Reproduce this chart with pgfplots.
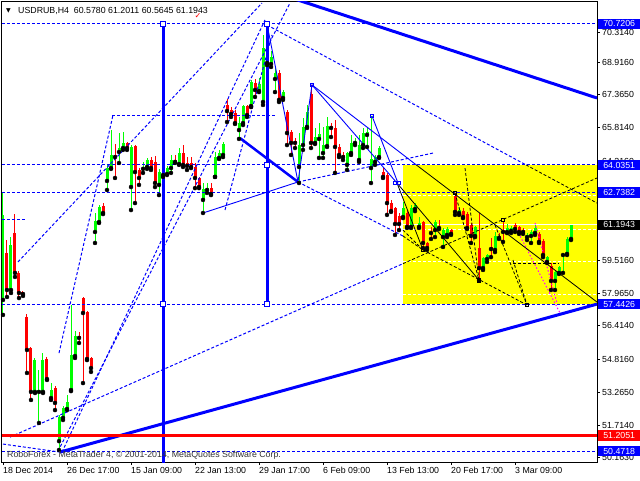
\documentclass[border=0pt]{standalone}
\usepackage{fontspec}
\setmainfont{Liberation Sans}
\newfontfamily\symfont{DejaVu Sans}
\usepackage{pgfplots}
\usepackage{pgfplotstable}
\pgfplotsset{compat=1.18}
\definecolor{mtgreen}{RGB}{0,255,0}
\definecolor{mtred}{RGB}{255,0,0}
\definecolor{mtblue}{RGB}{0,0,255}
\definecolor{mtyellow}{RGB}{255,255,0}
\definecolor{mtmag}{RGB}{255,0,255}

% bullish candles: bar index, open, high, low, close
\pgfplotstableread{
x o h l c
0 57.64 62.71 56.93 61.67
2 58.11 60.62 57.97 60.24
8 53.28 54.89 53.23 54.79
9 53.28 54.32 51.81 53.37
10 53.28 55.12 53.23 54.79
12 52.99 53.70 52.90 53.37
14 50.95 52.19 50.53 52.09
15 52.05 52.61 51.95 52.52
16 52.47 53.13 52.42 52.80
17 53.37 57.40 53.32 55.03
18 54.98 56.17 54.89 55.93
23 60.86 61.76 60.34 61.38
24 61.33 62.14 61.29 62.04
26 63.28 64.04 62.85 63.89
27 63.89 65.69 63.85 64.51
29 64.65 65.55 64.13 64.84
30 64.84 65.60 64.75 65.08
32 62.99 64.98 61.90 64.89
35 63.85 64.18 63.66 63.94
36 63.94 64.37 63.85 64.27
39 63.09 63.85 62.61 63.70
41 63.61 63.99 63.56 63.89
42 63.89 64.51 63.66 64.27
44 64.08 64.84 64.04 64.60
50 62.38 63.18 61.76 62.90
51 62.85 63.18 62.71 62.94
53 63.47 64.65 63.47 64.41
54 64.37 64.75 64.32 64.60
55 64.51 65.12 64.41 65.03
59 65.69 66.31 65.27 66.02
60 66.02 66.88 65.93 66.83
62 66.83 68.06 66.78 67.97
64 67.54 68.16 67.49 67.87
65 67.02 70.20 66.88 69.58
67 68.82 69.44 68.68 69.15
68 68.11 68.68 67.49 68.39
70 67.21 67.59 67.12 67.49
74 63.94 65.55 63.18 64.98
75 64.98 66.26 64.75 65.84
76 65.84 66.88 65.79 66.55
78 65.08 65.79 65.03 65.36
79 65.27 66.02 64.37 65.50
80 64.60 65.84 64.37 64.98
81 64.93 66.31 64.89 65.88
86 64.04 64.65 63.80 64.60
87 64.60 65.46 64.51 65.08
88 65.08 65.31 64.98 65.12
89 64.27 65.46 64.18 64.98
90 64.98 65.79 64.84 65.55
91 65.46 65.84 64.89 65.60
92 63.89 66.36 63.18 64.32
93 64.18 64.51 64.04 64.41
94 64.41 64.93 64.37 64.84
100 61.57 62.28 61.52 61.98
102 61.10 62.14 61.05 61.98
103 61.95 62.23 61.85 62.14
104 61.10 61.57 61.05 61.29
108 60.95 61.43 60.62 61.33
110 60.62 61.05 60.15 60.95
111 60.72 61.10 60.62 61.00
114 61.76 62.04 61.67 61.90
118 60.67 61.14 60.62 61.10
120 59.15 59.67 59.06 59.63
121 59.58 59.82 59.44 59.77
123 60.01 60.86 59.91 60.67
126 60.86 61.24 60.81 61.05
127 60.91 61.14 60.81 61.05
131 60.62 60.81 60.48 60.72
132 60.67 60.95 60.34 60.86
133 60.81 61.19 60.72 61.05
136 59.44 59.72 59.39 59.67
138 58.54 59.06 58.11 58.96
139 58.92 59.25 58.87 59.20
140 59.77 59.86 58.92 59.82
141 59.82 60.62 59.77 60.53
142 60.53 61.19 60.48 61.19
}\bull

% bearish candles
\pgfplotstableread{
x o h l c
1 59.86 60.48 57.78 58.11
3 60.81 61.71 58.73 58.92
4 58.92 59.01 57.73 57.97
5 58.02 58.06 57.83 57.92
6 56.83 56.97 54.18 55.27
7 55.36 55.41 52.90 53.28
11 54.84 54.94 53.85 53.89
13 53.47 53.56 52.42 52.76
19 55.93 56.12 55.60 55.84
20 57.73 57.78 53.70 57.02
21 57.07 57.12 54.79 54.84
22 54.89 54.94 54.23 54.41
25 62.09 62.23 61.71 61.76
28 64.51 65.03 63.42 64.41
31 65.08 65.12 64.75 64.84
33 64.93 64.98 62.23 63.70
34 63.80 63.89 63.09 63.42
37 64.27 64.41 63.80 63.89
38 64.18 64.46 62.99 63.18
40 63.66 63.70 63.47 63.56
43 64.27 64.51 64.13 64.18
45 64.60 64.98 63.94 64.04
46 64.13 64.41 63.80 63.99
47 64.13 64.41 63.89 63.94
48 63.94 64.13 62.94 63.42
49 63.42 63.47 62.94 62.99
52 62.94 63.18 62.61 62.66
56 66.88 67.16 66.07 66.59
57 66.64 66.78 66.31 66.45
58 66.50 66.64 65.98 66.02
61 66.83 66.88 66.31 66.40
63 67.92 68.11 67.26 67.59
66 69.96 70.72 68.77 68.87
69 68.39 68.54 67.02 67.12
71 66.55 66.64 64.98 65.55
72 65.60 65.69 64.51 65.08
73 65.17 65.31 64.84 65.08
77 67.40 67.83 64.84 65.08
82 65.88 66.02 65.36 65.79
83 65.79 66.17 63.66 64.89
84 64.89 65.03 64.41 64.51
85 64.51 64.65 64.27 64.41
95 63.70 63.89 63.42 63.47
96 63.56 63.66 61.67 62.23
97 62.23 62.38 61.81 61.85
98 61.98 62.04 60.72 61.24
99 61.62 61.76 60.95 61.24
101 61.76 61.90 61.05 61.10
105 61.33 61.38 60.10 60.34
106 60.34 60.39 60.01 60.10
107 60.86 61.10 60.53 60.81
109 61.10 61.43 61.00 61.05
112 60.95 61.00 60.72 60.77
113 62.57 62.71 61.67 61.81
115 61.85 61.98 61.52 61.57
116 61.71 61.81 61.00 61.05
117 61.19 61.29 60.34 60.67
119 60.10 61.76 58.58 59.15
122 60.15 60.58 59.67 60.05
124 60.67 60.81 60.53 60.58
125 60.95 61.33 60.39 60.86
128 61.19 61.29 60.86 61.00
129 61.10 61.14 60.77 60.86
130 60.95 61.05 60.77 60.86
134 60.77 60.86 60.34 60.39
135 60.43 60.53 59.67 59.77
137 59.25 59.39 58.11 58.54
}\bear

\begin{document}
\begin{tikzpicture}[font=\fontsize{8.8}{10}\selectfont,
  dsh/.style={mtblue, line width=1pt, dash pattern=on 3pt off 2pt},
  kdsh/.style={black, line width=0.8pt, dash pattern=on 3pt off 2pt},
  thin/.style={mtblue, line width=0.9pt},
  thick/.style={mtblue, line width=3pt},
  lbl/.style={anchor=west, text=white, inner sep=0pt, minimum width=42pt, minimum height=10.5pt}]
\useasboundingbox (0pt,0pt) rectangle (640pt,480pt);
\fill[white] (0pt,0pt) rectangle (640pt,480pt);
\begin{axis}[
  at={(2pt,18pt)}, anchor=south west,
  width=595pt, height=460pt, scale only axis,
  xmin=-0.25, xmax=148.5, ymin=49.960, ymax=71.759,
  axis line style={black, line width=1pt},
  xtick pos=bottom, ytick pos=right, yticklabel pos=right,
  tick align=outside, major tick length=3pt,
  tick style={black, line width=0.8pt},
  xtick={0,16,...,128},
  xticklabels={18 Dec 2014,26 Dec 17:00,15 Jan 09:00,22 Jan 13:00,29 Jan 17:00,6 Feb 09:00,13 Feb 13:00,20 Feb 17:00,3 Mar 09:00},
  xticklabel style={anchor=north west, inner xsep=0pt, inner ysep=2pt},
  ytick={50.163,51.714,53.265,54.816,56.414,57.965,59.516,61.066,62.665,64.216,65.814,67.365,68.916,70.314},
  yticklabels={50.1630,51.7140,53.2650,54.8160,56.4140,57.9650,59.5160,{},{},64.2160,65.8140,67.3650,68.9160,70.3140},
  yticklabel style={anchor=west, inner xsep=2pt},
]
% yellow rectangle
\addplot[fill=mtyellow, draw=none] coordinates {(100,57.4426) (148.5,57.4426) (148.5,64.0351) (100,64.0351)} -- cycle;
% white levels inside rectangle
\addplot[white, line width=1pt] coordinates {(100,61.1943) (148.5,61.1943)};
\addplot[white, line width=1pt, dash pattern=on 3pt off 2pt] coordinates {(100,61.00) (148.5,61.00)};
\addplot[white, line width=1pt, dash pattern=on 3pt off 2pt] coordinates {(100,62.61) (148.5,62.61)};
\addplot[white, line width=1pt, dash pattern=on 3pt off 2pt] coordinates {(100,59.44) (148.5,59.44)};
\addplot[white, line width=1pt, dash pattern=on 3pt off 2pt] coordinates {(100,57.92) (148.5,57.92)};

% candles: wicks then bodies
\addplot[only marks, mark=none, error bars/.cd, y dir=plus, y explicit, error mark=none,
  error bar style={color=mtgreen, line width=1pt}]
  table[x=x, y=l, y error plus expr=\thisrow{h}-\thisrow{l}] {\bull};
\addplot[only marks, mark=none, error bars/.cd, y dir=plus, y explicit, error mark=none,
  error bar style={color=mtgreen, line width=3pt}]
  table[x=x, y=o, y error plus expr=\thisrow{c}-\thisrow{o}] {\bull};
\addplot[only marks, mark=none, error bars/.cd, y dir=plus, y explicit, error mark=none,
  error bar style={color=mtred, line width=1pt}]
  table[x=x, y=l, y error plus expr=\thisrow{h}-\thisrow{l}] {\bear};
\addplot[only marks, mark=none, error bars/.cd, y dir=plus, y explicit, error mark=none,
  error bar style={color=mtred, line width=3pt}]
  table[x=x, y=c, y error plus expr=\thisrow{o}-\thisrow{c}] {\bear};

% horizontal dashed levels
\addplot[dsh] coordinates {(-0.25,70.7206) (148.5,70.7206)};
\addplot[dsh] coordinates {(-0.25,64.0351) (148.5,64.0351)};
\addplot[dsh] coordinates {(-0.25,62.7382) (148.5,62.7382)};
\addplot[dsh] coordinates {(-0.25,57.4426) (148.5,57.4426)};
\addplot[dsh] coordinates {(-0.25,50.4718) (148.5,50.4718)};
\addplot[dsh] coordinates {(-0.25,61.43) (5.5,61.43)};
\addplot[dsh] coordinates {(27.25,66.40) (68,66.40)};

% dashed fan and channel lines
\addplot[dsh] coordinates {(3.75,59.44) (64.75,71.71)};
\addplot[dsh] coordinates {(1.75,51.14) (100,59.36)};
\addplot[kdsh] coordinates {(100,59.36) (148.5,63.42)};
\addplot[dsh] coordinates {(14,55.12) (27.5,66.40)};
\addplot[dsh] coordinates {(14.75,50.43) (65.5,70.91)};
\addplot[dsh] coordinates {(13.75,50.48) (71.75,71.71)};
\addplot[dsh] coordinates {(55.5,61.90) (67.25,70.20)};
\addplot[dsh] coordinates {(0,50.81) (14.25,50.43)};
\addplot[dsh] coordinates {(66,70.67) (130.75,64.04)};
\addplot[kdsh] coordinates {(130.75,64.04) (148.5,62.23)};
\addplot[dsh] coordinates {(73.75,63.23) (107.5,64.60)};
\addplot[dsh] coordinates {(73.75,63.23) (100,60.67)};
\addplot[kdsh] coordinates {(100,60.67) (105,60.01)};

% black dashed lines inside the rectangle
\addplot[kdsh] coordinates {(105,60.01) (131,57.40)};
\addplot[kdsh] coordinates {(115.5,63.89) (119,58.58)};
\addplot[kdsh] coordinates {(113,62.71) (119,58.58)};
\addplot[kdsh] coordinates {(123,61.19) (131,57.40)};
\addplot[kdsh] coordinates {(127.5,59.53) (131,57.40)};
\addplot[kdsh] coordinates {(127.5,59.39) (139,59.39)};
\addplot[kdsh] coordinates {(100,60.95) (105,60.01)};

% magenta dotted
\addplot[mtmag, line width=1pt, dash pattern=on 1.5pt off 2pt] coordinates {(128.5,60.95) (139.25,57.02)};
\addplot[mtmag, line width=1pt, dash pattern=on 1.5pt off 2pt] coordinates {(133,61.29) (138.5,57.49)};

% thin solid lines
\addplot[thin] coordinates {(50,61.76) (73.75,63.23)};
\addplot[thin] coordinates {(66,70.7206) (73.75,63.23) (77.25,67.83) (98.5,63.18)};
\addplot[thin] coordinates {(77.25,67.83) (103.35,64.0351)};
\addplot[black, line width=0.8pt] coordinates {(103.35,64.0351) (148.5,57.54)};
\addplot[thin] coordinates {(92.25,66.36) (98.75,63.18)};
\addplot[black, line width=0.8pt] coordinates {(98.5,63.18) (105,60.01)};
\addplot[black, line width=0.8pt] coordinates {(98.5,63.18) (119,58.58)};

% thick lines
\addplot[thick] coordinates {(14.25,50.43) (148.5,57.4426)};
\addplot[thick] coordinates {(69.9,72.09) (148.5,67.21)};
\addplot[mtblue, line width=2.5pt] coordinates {(59.25,65.31) (73.75,63.23)};
\addplot[thick] coordinates {(40,70.7206) (40,49.5)};
\addplot[thick] coordinates {(66,70.7206) (66,57.4426)};
\addplot[mtred, line width=2.5pt] coordinates {(-0.25,51.2051) (148.5,51.2051)};

% anchor squares
\addplot[only marks, mark=square*, mark size=2.6pt, mark options={fill=white, draw=mtblue, line width=1.2pt}]
  coordinates {(40,70.7206) (40,57.4426) (66,70.7206) (66,64.0351) (66,57.4426)};
\addplot[only marks, mark=square, mark size=1.8pt, mark options={draw=mtblue, line width=0.8pt}]
  coordinates {(77.25,67.83) (92.25,66.36) (98,63.18) (99,63.18)};
\addplot[only marks, mark=square, mark size=1.8pt, mark options={draw=black, line width=0.8pt}]
  coordinates {(105,60.01) (113,62.71) (119,58.58) (125,61.43) (131,57.40)};

\coordinate (p1) at (axis cs:148.5,70.7206);
\coordinate (p2) at (axis cs:148.5,64.0351);
\coordinate (p3) at (axis cs:148.5,62.7382);
\coordinate (p4) at (axis cs:148.5,61.1943);
\coordinate (p5) at (axis cs:148.5,57.4426);
\coordinate (p6) at (axis cs:148.5,51.2051);
\coordinate (p7) at (axis cs:148.5,50.4718);
\end{axis}
% price labels on the right scale
\node[lbl, fill=mtblue] at ([xshift=1pt]p1) {70.7206};
\node[lbl, fill=mtblue] at ([xshift=1pt]p2) {64.0351};
\node[lbl, fill=mtblue] at ([xshift=1pt]p3) {62.7382};
\node[lbl, fill=black] at ([xshift=1pt]p4) {61.1943};
\node[lbl, fill=mtblue] at ([xshift=1pt]p5) {57.4426};
\node[lbl, fill=mtred] at ([xshift=1pt]p6) {51.2051};
\node[lbl, fill=mtblue] at ([xshift=1pt]p7) {50.4718};
% header and footer texts
\node[anchor=west, inner sep=0pt] at (6pt,469pt) {{\symfont\fontsize{6}{7}\selectfont ▼}};
\node[anchor=west, inner sep=0pt] at (18pt,469pt) {USDRUB,H4\ \ 60.5780 61.2011 60.5645 61.1943};
\node[anchor=center, inner sep=0pt, text=mtred] at (198pt,464pt) {{\symfont\fontsize{8}{9}\selectfont ✓}};
\node[anchor=west, inner sep=0pt, text=black!80] at (7pt,25pt) {RoboForex - MetaTrader 4, © 2001-2014, MetaQuotes Software Corp.};
\end{tikzpicture}
\end{document}
